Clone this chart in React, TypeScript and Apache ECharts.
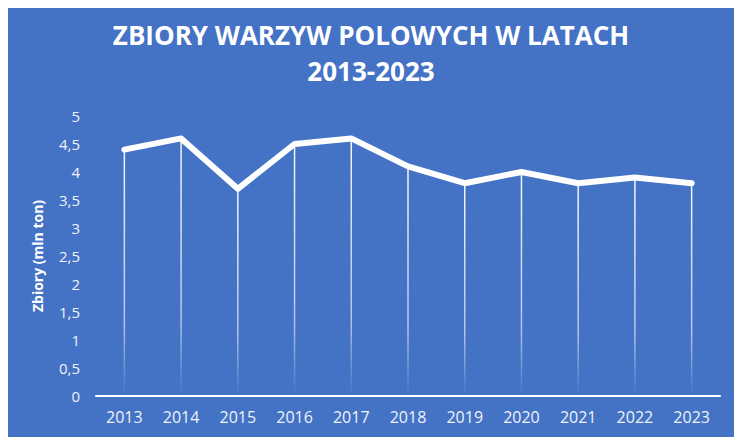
import React, { useEffect, useRef } from "react";
import * as echarts from "echarts";

const years = ["2013", "2014", "2015", "2016", "2017", "2018", "2019", "2020", "2021", "2022", "2023"];
const harvest = [4.4, 4.6, 3.7, 4.5, 4.6, 4.1, 3.8, 4.0, 3.8, 3.9, 3.8];

const titleText = "ZBIORY WARZYW POLOWYCH W LATACH\n2013-2023";
const yAxisName = "Zbiory (mln ton)";

const App: React.FC = () => {
  const chartRef = useRef<HTMLDivElement>(null);

  useEffect(() => {
    if (!chartRef.current) return;
    const chart = echarts.init(chartRef.current, null, { renderer: "svg" });

    const option = {
      animation: false,
      backgroundColor: "#4472C4",
      textStyle: { fontFamily: "Open Sans" },
      title: {
        text: titleText,
        left: "center",
        top: 12,
        textStyle: {
          color: "#ffffff",
          fontSize: 26,
          fontWeight: "bold",
          fontFamily: "Open Sans",
          lineHeight: 36,
        },
      },
      grid: { left: 96, right: 22, top: 116, bottom: 49 },
      xAxis: {
        type: "category",
        data: years,
        boundaryGap: true,
        axisLine: { lineStyle: { color: "#ffffff", width: 2 } },
        axisTick: { show: false },
        axisLabel: { color: "#eef2fa", fontSize: 16, margin: 13 },
      },
      yAxis: {
        type: "value",
        min: 0,
        max: 5,
        interval: 0.5,
        name: yAxisName,
        nameLocation: "middle",
        nameGap: 52,
        nameTextStyle: { color: "#ffffff", fontSize: 14, fontWeight: "bold" },
        axisLine: { show: false },
        axisTick: { show: false },
        splitLine: { show: false },
        axisLabel: {
          color: "#eef2fa",
          fontSize: 15,
          margin: 16,
          formatter: (v: number) => String(v).replace(".", ","),
        },
      },
      series: [
        {
          type: "bar",
          data: harvest,
          barWidth: 1.5,
          silent: true,
          itemStyle: {
            color: new echarts.graphic.LinearGradient(0, 0, 0, 1, [
              { offset: 0, color: "rgba(255,255,255,0.95)" },
              { offset: 0.7, color: "rgba(255,255,255,0.6)" },
              { offset: 1, color: "rgba(255,255,255,0)" },
            ]),
          },
        },
        {
          type: "line",
          data: harvest,
          symbol: "none",
          lineStyle: { color: "#ffffff", width: 6, cap: "round", join: "round" },
        },
      ],
    };

    chart.setOption(option);
    return () => chart.dispose();
  }, []);

  return <div ref={chartRef} style={{ width: 742, height: 445, margin: -8 }} />;
};

export default App;
